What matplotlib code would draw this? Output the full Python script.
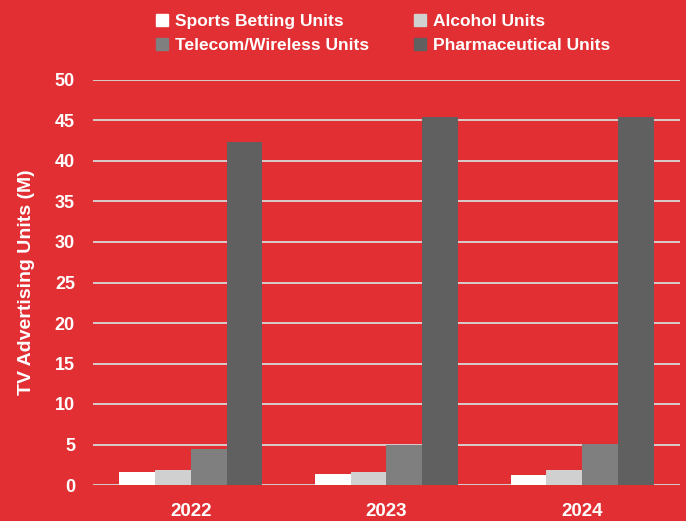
import matplotlib
matplotlib.use("Agg")
import matplotlib.pyplot as plt
import matplotlib.patches as mpatches
import numpy as np

years = ["2022", "2023", "2024"]
series = ["Sports Betting Units", "Alcohol Units", "Telecom/Wireless Units", "Pharmaceutical Units"]
sports = [1.6, 1.4, 1.2]
alcohol = [1.8, 1.6, 1.8]
telecom = [4.5, 4.9, 5.1]
pharma = [42.3, 45.4, 45.4]

colors = ["#FFFFFF", "#D0D0D0", "#7F7F7F", "#606060"]
bg = "#E12F33"

plt.rcParams['font.family'] = ['Liberation Sans', 'DejaVu Sans']
plt.rcParams['font.weight'] = 'bold'

fig = plt.figure(figsize=(6.86, 5.21), dpi=100, facecolor=bg)
ax = fig.add_axes([93 / 686, 36 / 521, 587 / 686, 405 / 521], facecolor=bg)

x = np.arange(len(years))
w = 0.183
values = [sports, alcohol, telecom, pharma]
for i, vals in enumerate(values):
    ax.bar(x + (i - 1.5) * w, vals, w, color=colors[i], zorder=3, label=series[i])

ax.set_xlim(-0.5, 2.5)
ax.set_ylim(0, 50)
ax.set_yticks(np.arange(0, 51, 5))
ax.set_xticks(x)
ax.set_xticklabels(years)
ax.yaxis.grid(True, color="#D8D8D8", linewidth=1.3, zorder=0)
for s in ax.spines.values():
    s.set_visible(False)
ax.tick_params(axis="both", length=0, colors="white", labelsize=13)
ax.tick_params(axis="y", pad=13)
ax.tick_params(axis="x", pad=13, labelsize=13.5)
ax.set_ylabel("TV Advertising Units (M)", color="white", fontsize=14, fontweight="bold", labelpad=14)

handles = [mpatches.Patch(color=c) for c in colors]
order = [0, 2, 1, 3]
leg = fig.legend([handles[i] for i in order], [series[i] for i in order], ncol=2,
                 loc="upper left", bbox_to_anchor=(140 / 686, 1.004), frameon=False,
                 handlelength=0.7, handleheight=0.7, handletextpad=0.4, columnspacing=2.6,
                 labelspacing=0.55, fontsize=12.5)
for t in leg.get_texts():
    t.set_color("white")
    t.set_fontweight("bold")

fig.savefig("out.png", dpi=100, facecolor=bg)
